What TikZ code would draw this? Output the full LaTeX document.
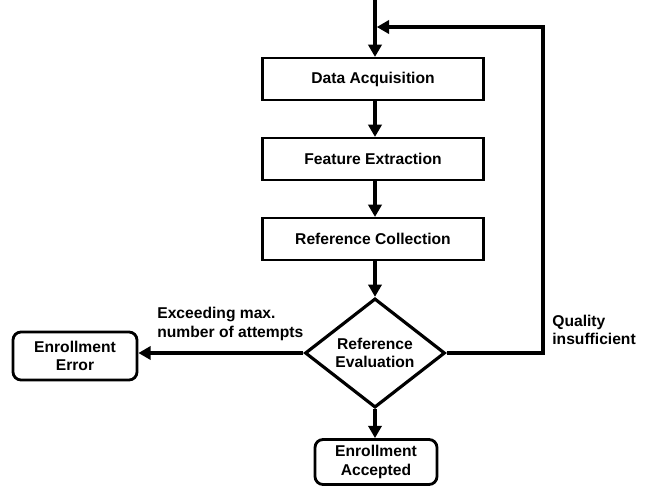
\documentclass[tikz,border=0pt]{standalone}
\usepackage{fontspec}
\setmainfont{Liberation Sans}
\usetikzlibrary{shapes.geometric,arrows.meta}

\begin{document}
\begin{tikzpicture}[x=0.02cm,y=-0.02cm,
  font=\fontsize{8.9}{10.6}\selectfont\bfseries,
  flow/.style={line width=2.1pt,-{Triangle[length=7pt,width=7.5pt]}},
  stepbox/.style={draw,line width=1.2pt,minimum width=4.42cm,minimum height=0.84cm,inner sep=0pt},
  endbox/.style={draw,line width=1.6pt,rounded corners=0.16cm,align=center,inner sep=0pt},
  decision/.style={diamond,draw,line width=1.8pt,align=center,inner sep=0pt,minimum width=2.8cm,minimum height=2.16cm}]
\useasboundingbox (0,0) rectangle (650,488);
% main column
\coordinate (top) at (375,0);
\coordinate (merge) at (375,27);
\node [stepbox] (acq) at (373,79) {Data Acquisition};
\node [stepbox] (feat) at (373,159) {Feature Extraction};
\node [stepbox] (coll) at (373,239) {Reference Collection};
\node [decision] (eval) at (375,353) {Reference\\Evaluation};
\node [endbox,minimum width=2.48cm,minimum height=0.96cm] (error) at (75,356) {Enrollment\\Error};
\node [endbox,minimum width=2.44cm,minimum height=0.9cm] (accepted) at (376,462) {Enrollment\\Accepted};
% loop back corners
\coordinate (loopa) at (543,353);
\coordinate (loopb) at (543,27);
\draw [line width=2.1pt] (top) -- (merge);
\draw [flow] (merge) -- (acq.north -| merge);
\draw [flow] (acq.south -| merge) -- (feat.north -| merge);
\draw [flow] (feat.south -| merge) -- (coll.north -| merge);
\draw [flow] (coll.south -| merge) -- (eval.north);
\draw [flow] (eval.south) -- (accepted.north -| eval.south);
\draw [flow] (eval.west) -- (error.east |- eval.west);
\draw [flow] (eval.east) -- (loopa) -- (loopb) -- ([xshift=1pt]merge);
\node [anchor=south west,align=left,inner sep=0pt] (exc) at (157,341) {Exceeding max.\\number of attempts};
\node [anchor=west,align=left,inner sep=0pt] (qual) at (552,330) {Quality\\insufficient};
\end{tikzpicture}
\end{document}
